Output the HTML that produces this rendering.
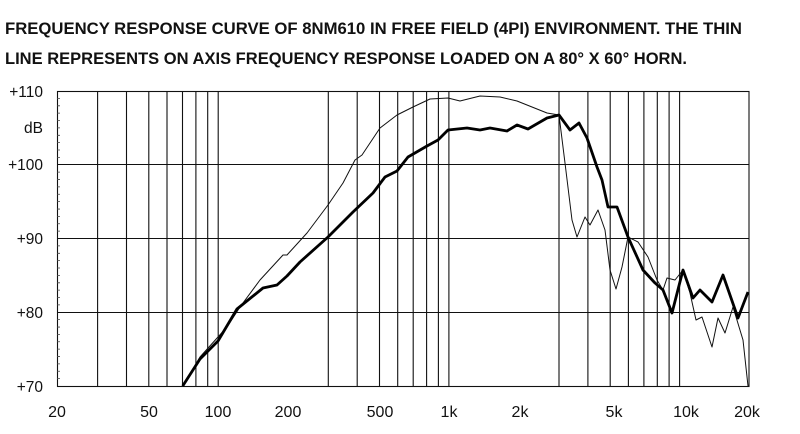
<!DOCTYPE html>
<html><head><meta charset="utf-8"><style>
html,body{margin:0;padding:0;background:#fff;width:800px;height:434px;overflow:hidden}
</style></head><body>
<svg width="800" height="434" viewBox="0 0 800 434" xmlns="http://www.w3.org/2000/svg" font-family="Liberation Sans, sans-serif">
<text x="5" y="34" font-size="17" font-weight="bold" textLength="737" lengthAdjust="spacingAndGlyphs" fill="#111">FREQUENCY RESPONSE CURVE OF 8NM610 IN FREE FIELD (4PI) ENVIRONMENT. THE THIN</text>
<text x="5" y="64" font-size="17" font-weight="bold" textLength="682" lengthAdjust="spacingAndGlyphs" fill="#111">LINE REPRESENTS ON AXIS FREQUENCY RESPONSE LOADED ON A 80° X 60° HORN.</text>
<g stroke="#111" stroke-width="1.1" fill="none">
<rect x="57.5" y="91.5" width="691.5" height="295"/>
<line x1="57" y1="164.5" x2="749" y2="164.5"/>
<line x1="57" y1="238.5" x2="749" y2="238.5"/>
<line x1="57" y1="312.5" x2="749" y2="312.5"/>
<path id="dec" d="M97.6,91V386M126.5,91V386M148.8,91V386M167,91V386M182.5,91V386M195.9,91V386M207.7,91V386M218.2,91V386"/>
<use href="#dec" transform="translate(230.7,0)"/>
<use href="#dec" transform="translate(461.4,0)"/>
</g>
<g stroke="#444" stroke-width="0.8">
<path id="mt" d="M57,98.4h3M57,105.8h3M57,113.1h3M57,120.5h3M57,127.9h3M57,135.3h3M57,142.6h3M57,150h3M57,157.4h3"/>
<use href="#mt" transform="translate(0,73.75)"/>
<use href="#mt" transform="translate(0,147.5)"/>
<use href="#mt" transform="translate(0,221.25)"/>
</g>
<g font-size="15.5" fill="#111" text-anchor="end">
<text x="43" y="97">+110</text>
<text x="43" y="133">dB</text>
<text x="43" y="170">+100</text>
<text x="43" y="244">+90</text>
<text x="43" y="318">+80</text>
<text x="43" y="392">+70</text>
</g>
<g font-size="16" fill="#111" text-anchor="middle">
<text x="57" y="417">20</text><text x="149" y="417">50</text><text x="218" y="417">100</text>
<text x="288" y="417">200</text><text x="380" y="417">500</text><text x="449" y="417">1k</text>
<text x="520" y="417">2k</text><text x="614" y="417">5k</text><text x="686" y="417">10k</text><text x="747" y="417">20k</text>
</g>
<polyline fill="none" stroke="#111" stroke-width="1" stroke-linejoin="round" points="183,386 200,357 227,327 240,307 260,280 283,255 287,255 307,233 328,205 343,183 355,160 362,155 380,128 397,115 413,107 430,99 448,98 460,101 480,96 500,97 517,101 547,113 559,115 565,163 572,220 577,237 585,217 590,225 598,210 605,230 610,270 616,289 622,267 628,237 638,242 648,257 657,280 663,290 667,278 675,280 683,270 690,293 696,320 702,317 712,347 718,318 725,333 733,307 743,340 748,386"/>
<polyline fill="none" stroke="#000" stroke-width="2.8" stroke-linejoin="round" points="182.7,386 200,359 218,341 237,309 263,288 277,285 287,276 300,262 328,237 353,212 373,193 385,177 397,171 408,157 427,146 438,140 448,130 467,128 480,130 490,128 507,131 517,125 528,129 547,118 559,115 570,130 579,123 587,138 597,167 602,180 608,207 617,207 628,237 643,270 655,283 663,290 672,313 683,270 693,298 700,290 712,302 723,275 738,318 748,292"/>
</svg>
</body></html>
